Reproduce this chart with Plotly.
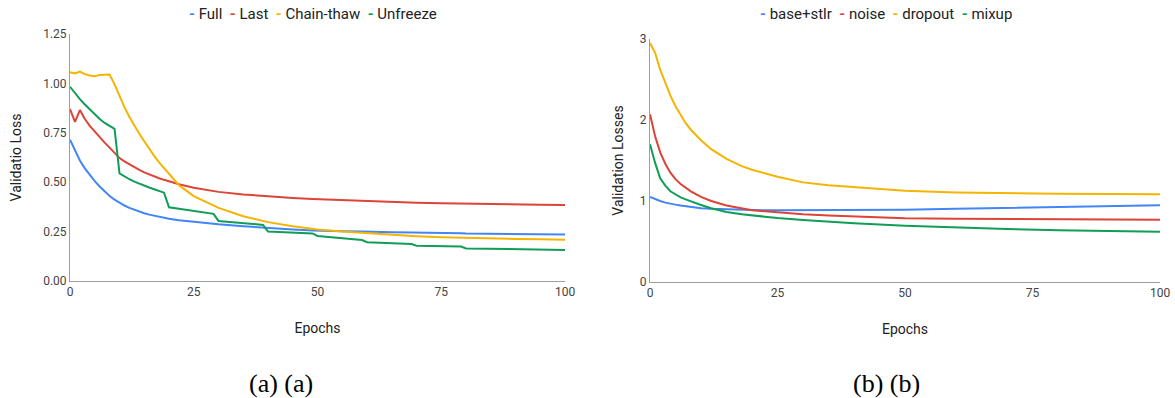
import plotly.graph_objects as go

# ---------------- data: panel (a) ----------------
epochs_a = [0, 1, 2, 3, 4, 5, 6, 7, 8, 9, 10, 11, 12, 13, 14, 15, 16, 17, 18, 19,
            20, 22, 25, 29, 30, 35, 39, 40, 45, 49, 50, 55, 59, 60, 65, 69, 70,
            75, 79, 80, 85, 89, 90, 95, 100]
full = [0.715, 0.66, 0.61, 0.57, 0.535, 0.505, 0.478, 0.453, 0.43, 0.412, 0.396,
        0.382, 0.37, 0.36, 0.351, 0.343, 0.336, 0.33, 0.325, 0.32,
        0.315, 0.308, 0.299, 0.289, 0.287, 0.277, 0.27, 0.268, 0.261, 0.256, 0.255,
        0.252, 0.25, 0.249, 0.247, 0.245, 0.245, 0.243, 0.242, 0.241, 0.239, 0.238,
        0.238, 0.236, 0.235]
last = [0.87, 0.805, 0.865, 0.82, 0.785, 0.755, 0.73, 0.70, 0.675, 0.647, 0.622,
        0.605, 0.59, 0.575, 0.562, 0.55, 0.539, 0.529, 0.52, 0.512,
        0.504, 0.49, 0.472, 0.455, 0.451, 0.438, 0.43, 0.428, 0.42, 0.415, 0.414,
        0.408, 0.404, 0.403, 0.399, 0.396, 0.396, 0.393, 0.391, 0.391, 0.389, 0.388,
        0.387, 0.386, 0.385]
chain_thaw = [1.057, 1.05, 1.06, 1.047, 1.04, 1.036, 1.043, 1.045, 1.045, 0.995, 0.935,
              0.88, 0.83, 0.785, 0.745, 0.707, 0.667, 0.633, 0.60, 0.57,
              0.54, 0.485, 0.43, 0.38, 0.37, 0.328, 0.303, 0.298, 0.277, 0.264, 0.261,
              0.25, 0.243, 0.241, 0.233, 0.228, 0.227, 0.222, 0.219, 0.218, 0.215, 0.213,
              0.213, 0.211, 0.209]
unfreeze = [0.983, 0.95, 0.92, 0.893, 0.867, 0.843, 0.82, 0.80, 0.785, 0.77, 0.545,
            0.528, 0.515, 0.503, 0.492, 0.482, 0.473, 0.464, 0.455, 0.447,
            0.373, 0.365, 0.353, 0.34, 0.304, 0.293, 0.284, 0.25, 0.245, 0.241, 0.228,
            0.215, 0.207, 0.196, 0.19, 0.187, 0.179, 0.176, 0.174, 0.165, 0.163, 0.161,
            0.159, 0.158, 0.157]

# ---------------- data: panel (b) ----------------
epochs_b = [0, 1, 2, 3, 4, 5, 6, 7, 8, 10, 12, 15, 18, 20, 25, 30, 35, 40, 50,
            60, 70, 80, 90, 100]
base_stlr = [1.05, 1.02, 1.0, 0.98, 0.965, 0.955, 0.945, 0.937, 0.925, 0.912, 0.903,
             0.895, 0.89, 0.888, 0.885, 0.885, 0.886, 0.888, 0.893, 0.903, 0.915,
             0.928, 0.939, 0.947]
noise = [2.07, 1.80, 1.60, 1.46, 1.35, 1.27, 1.21, 1.16, 1.12, 1.05, 1.0, 0.945,
         0.905, 0.885, 0.86, 0.835, 0.82, 0.808, 0.786, 0.78, 0.775, 0.772, 0.77, 0.769]
dropout = [2.95, 2.83, 2.62, 2.45, 2.30, 2.17, 2.06, 1.96, 1.88, 1.75, 1.64, 1.52,
           1.43, 1.385, 1.30, 1.23, 1.195, 1.17, 1.127, 1.105, 1.093, 1.088, 1.085, 1.083]
mixup = [1.70, 1.47, 1.28, 1.19, 1.12, 1.08, 1.045, 1.02, 0.995, 0.95, 0.91, 0.865,
         0.835, 0.82, 0.79, 0.765, 0.745, 0.725, 0.695, 0.672, 0.655, 0.638, 0.63, 0.621]

names_a = ["Full", "Last", "Chain-thaw", "Unfreeze"]
names_b = ["base+stlr", "noise", "dropout", "mixup"]
colors = ["#4285F4", "#DB4437", "#F4B400", "#0F9D58"]

W, H = 1175, 398
fig = go.Figure()

for name, ys, c in zip(names_a, [full, last, chain_thaw, unfreeze], colors):
    fig.add_trace(go.Scatter(x=epochs_a, y=ys, name=name, mode="lines",
                             line=dict(color=c, width=2), xaxis="x", yaxis="y",
                             showlegend=False))
for name, ys, c in zip(names_b, [base_stlr, noise, dropout, mixup], colors):
    fig.add_trace(go.Scatter(x=epochs_b, y=ys, name=name, mode="lines",
                             line=dict(color=c, width=2), xaxis="x2", yaxis="y2",
                             showlegend=False))

tickfont = dict(family="Roboto", size=12, color="#444444")
titlefont = dict(family="Roboto", size=14, color="#222222")
axcol = "#9e9e9e"

def px_x(p):
    return p / W

def px_y(p):
    return 1 - p / H

common_x = dict(range=[0, 100], tickvals=[0, 25, 50, 75, 100], showgrid=False,
                zeroline=False, showline=True, linecolor=axcol, linewidth=1,
                ticks="", tickfont=tickfont, automargin=False,
                title=dict(text="Epochs", font=titlefont, standoff=24))
common_y = dict(showgrid=False, zeroline=False, showline=True, linecolor=axcol,
                linewidth=1, ticks="", tickfont=tickfont, automargin=False)

fig.update_layout(
    width=W, height=H,
    margin=dict(l=0, r=0, t=0, b=0, autoexpand=False),
    paper_bgcolor="white", plot_bgcolor="white",
    xaxis=dict(domain=[px_x(70), px_x(565)], anchor="y", **common_x),
    yaxis=dict(domain=[px_y(281), px_y(34)], anchor="x", range=[0, 1.25],
               tickvals=[0, 0.25, 0.5, 0.75, 1.0, 1.25], tickformat=".2f",
               title=dict(text="Validatio Loss", font=titlefont, standoff=18), **common_y),
    xaxis2=dict(domain=[px_x(650), px_x(1160)], anchor="y2", **common_x),
    yaxis2=dict(domain=[px_y(282), px_y(39)], anchor="x2", range=[0, 3],
                tickvals=[0, 1, 2, 3],
                title=dict(text="Validation Losses", font=titlefont, standoff=12), **common_y),
)

def legend_text(names):
    parts = []
    for n, c in zip(names, colors):
        parts.append(f"<span style='color:{c}'><b>-</b></span>\u00a0{n}")
    return "\u00a0\u00a0".join(parts)

legfont = dict(family="Roboto", size=15, color="#222222")
fig.add_annotation(text=legend_text(names_a), x=px_x(313), y=px_y(14), xref="paper", yref="paper",
                   showarrow=False, xanchor="center", yanchor="middle", font=legfont)
fig.add_annotation(text=legend_text(names_b), x=px_x(886), y=px_y(14), xref="paper", yref="paper",
                   showarrow=False, xanchor="center", yanchor="middle", font=legfont)

capfont = dict(family="Liberation Serif", size=26, color="#000000")
fig.add_annotation(text="(a) (a)", x=px_x(281), y=px_y(383), xref="paper", yref="paper",
                   showarrow=False, xanchor="center", yanchor="middle", font=capfont)
fig.add_annotation(text="(b) (b)", x=px_x(886), y=px_y(383), xref="paper", yref="paper",
                   showarrow=False, xanchor="center", yanchor="middle", font=capfont)

fig.write_html("out.html", config={"displayModeBar": False})

# remove the default browser body margin so the figure sits at the page origin
with open("out.html", "r", encoding="utf-8") as f:
    html = f.read()
html = html.replace("<head>", "<head><style>html,body{margin:0;padding:0;overflow:hidden;}</style>", 1)
with open("out.html", "w", encoding="utf-8") as f:
    f.write(html)
